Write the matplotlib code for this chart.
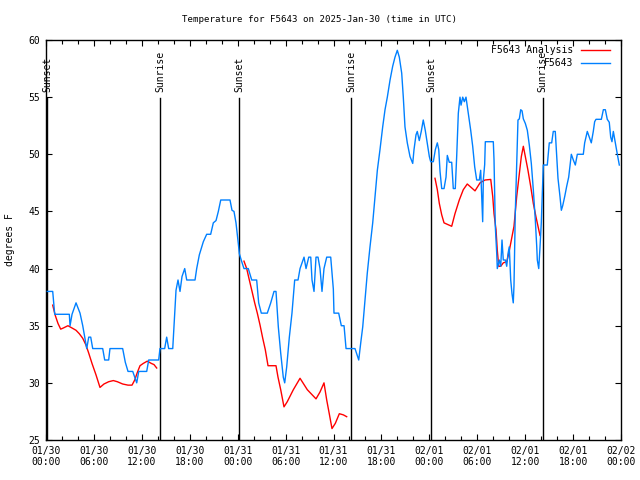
import matplotlib
matplotlib.use("Agg")
import matplotlib.pyplot as plt
import matplotlib.dates as mdates
from datetime import datetime, timedelta
import numpy as np

# ---- data (hours since 2025-01-30 00:00 UTC, temperature in F) ----
obs_hours = [0.16, 0.84, 1.09, 2.92, 3.01, 3.26, 3.76, 4.26, 4.60, 4.92, 5.10, 5.35, 5.60, 5.85,
             7.10, 7.35, 7.85, 8.01, 9.60, 9.93, 10.27, 10.86, 11.11, 11.36, 11.61, 12.61, 12.86,
             14.11, 14.27, 14.86, 15.11, 15.36, 15.87, 16.03, 16.28, 16.53, 16.78, 17.03, 17.37,
             17.62, 18.66, 18.87, 19.20, 19.70, 20.12, 20.62, 20.95, 21.29, 21.58, 21.88, 23.04,
             23.29, 23.54, 23.79, 24.08, 24.21, 24.51, 24.79, 25.33, 25.76, 26.38, 26.63, 26.96,
             27.71, 28.14, 28.55, 28.80, 29.09, 29.39, 29.71, 29.89, 30.14, 30.47, 30.80, 31.14,
             31.56, 31.81, 32.31, 32.56, 32.90, 33.15, 33.31, 33.56, 33.81, 34.06, 34.31, 34.56,
             34.81, 35.15, 35.65, 35.98, 36.06, 36.65, 36.98, 37.32, 37.57, 38.69, 38.98, 39.16,
             39.41, 39.66, 39.94, 40.23, 40.57, 40.91, 41.20, 41.49, 41.82, 42.16, 42.45, 42.74,
             43.08, 43.41, 43.70, 43.99, 44.24, 44.54, 44.74, 44.95, 45.24, 45.58, 45.92, 46.08,
             46.33, 46.49, 46.74, 46.99, 47.24, 47.49, 47.74, 48.00, 48.17, 48.50, 48.75, 49.00,
             49.18, 49.34, 49.55, 49.84, 50.09, 50.25, 50.50, 50.80, 51.00, 51.25, 51.43, 51.63,
             51.84, 51.97, 52.18, 52.38, 52.59, 52.88, 53.18, 53.43, 53.68, 53.93, 54.26, 54.43,
             54.60, 54.68, 54.76, 54.93, 55.01, 56.01, 56.10, 56.26, 56.44, 56.51, 56.76, 56.94,
             57.10, 57.26, 57.52, 57.69, 57.85, 58.01, 58.19, 58.35, 58.51, 58.60, 58.76, 58.94,
             59.10, 59.27, 59.44, 59.61, 59.77, 60.02, 60.27, 60.52, 60.77, 61.02, 61.27, 61.45,
             61.52, 61.70, 61.86, 62.02, 62.20, 62.27, 62.77, 63.02, 63.32, 63.52, 63.77, 63.95,
             64.11, 64.36, 64.53, 64.70, 64.95, 65.20, 65.45, 65.61, 65.78, 66.03, 66.28, 66.53,
             67.28, 67.45, 67.78, 68.03, 68.28, 68.53, 68.70, 68.87, 69.54, 69.79, 70.04, 70.28,
             70.53, 70.71, 70.87, 71.04, 71.29, 71.54, 71.79]
obs_temps = [38, 38, 36, 36, 35, 36, 37, 36.1, 35, 33.75, 33, 34, 34, 33,
             33, 32, 32, 33, 33, 31.8, 31, 31, 30.5, 30, 31, 31, 32,
             32, 33, 33, 34, 33, 33, 35, 38.1, 39, 38, 39.3, 40,
             39, 39, 40, 41.2, 42.35, 43, 43, 44, 44.2, 45, 46, 46,
             45.1, 45, 44, 42.2, 41.3, 40.6, 40, 40, 39, 39, 37, 36.1,
             36.1, 37, 38, 38, 34.9, 32.6, 30.5, 30, 31.4, 34, 36.1, 39,
             39, 40, 41, 40, 41, 41, 39, 38, 41, 41, 40, 38,
             40, 41, 41, 38.2, 36.1, 36.1, 35, 35, 33, 33, 32.4, 32,
             33.5, 34.9, 37.25, 39.6, 41.9, 44, 46.3, 48.6, 50.4, 52.4, 53.9, 55,
             56.5, 57.7, 58.5, 59.1, 58.5, 57.1, 55, 52.4, 51, 49.8, 49.2, 50.4,
             51.7, 52, 51.2, 52, 53, 52.1, 51, 49.8, 49.35, 49.35, 50.4, 51,
             50.4, 48.5, 47, 47, 48, 49.9, 49.3, 49.3, 47, 47, 49.9, 53.6,
             55, 54.3, 55, 54.6, 55, 53.6, 52.1, 50.7, 48.9, 47.75, 47.75, 48.6,
             45.7, 44.1, 47.75, 49.1, 51.1, 51.1, 49.5, 43.7, 41.3, 40, 40.75, 40.2,
             42.5, 40.75, 40.75, 40.2, 41.3, 41.9, 39, 37.8, 37, 38.5, 44.8, 49.2,
             53, 53.1, 53.9, 53.8, 53.1, 52.7, 52.1, 50.8, 49.2, 46.9, 44.25, 41.9,
             40.75, 40, 41.9, 44, 47.75, 49.06, 49.06, 51, 51, 52, 52, 49.8,
             47.9, 46.3, 45.1, 45.5, 46.3, 47.2, 48, 49, 50, 49.5, 49.06, 50,
             50, 51, 52, 51.5, 51, 52, 52.85, 53.06, 53.06, 53.9, 53.9, 53.06,
             52.8, 51.5, 51.1, 52, 51, 50, 49.06]

ana_hours = [0.84, 1.16, 1.50, 1.84, 2.17, 2.75, 3.26, 3.76, 4.17, 4.60, 5.01, 5.35, 5.76, 6.26,
             6.76, 7.26, 7.85, 8.43, 8.93, 9.60, 10.27, 10.77, 11.11, 11.43, 11.77, 12.18, 12.68,
             13.19, 13.52, 13.86, np.nan,
             24.79, 25.13, 25.46, 25.80, 26.13, 26.46, 26.80, 27.14, 27.46, 27.80, 28.80, 29.05,
             29.39, 29.80, 30.21, 30.97, 31.81, 32.72, 33.81, 34.31, 34.81, 35.15, 35.47, 35.81,
             36.23, 36.73, 37.23, 37.65, np.nan,
             48.71, 49.00, 49.25, 49.55, 49.84, 50.80, 51.21, 51.75, 52.25, 52.75, 53.72, 54.35,
             54.97, 55.69, 55.94, 56.10, 56.35, 56.51, 56.69, 56.94, 57.26, 57.69, 57.94, 58.27,
             58.60, 58.94, 59.27, 59.52, 59.77, 60.02, 60.35, 60.69, 61.02, 61.36, 61.70, 61.86]
ana_temps = [36.8, 35.9, 35.2, 34.7, 34.8, 35, 34.8, 34.6, 34.3, 33.9, 33.3, 32.6, 31.7, 30.7,
             29.6, 29.9, 30.1, 30.2, 30.1, 29.9, 29.8, 29.8, 30.25, 30.9, 31.5, 31.7, 31.9,
             31.7, 31.6, 31.3, np.nan,
             40.65, 40, 39, 38, 37, 36.1, 35.06, 33.9, 32.9, 31.5, 31.5, 30.5,
             29.4, 27.9, 28.35, 29.4, 30.4, 29.4, 28.6, 29.2, 30, 28.5, 27.3, 26,
             26.46, 27.3, 27.2, 27.04, np.nan,
             47.9, 46.9, 45.7, 44.7, 44, 43.7, 44.8, 46, 46.9, 47.4, 46.8, 47.5,
             47.75, 47.8, 46.3, 44.8, 43.4, 41.6, 40.2, 40.2, 40.5, 40.6, 41.3, 42.5,
             43.7, 46.3, 48.3, 49.8, 50.7, 49.8, 48.6, 47.2, 45.7, 44.5, 43.4, 42.9]

sun_hours = [0.13, 14.27, 24.17, 38.2, 48.2, 62.2]
sun_labels = ["Sunset", "Sunrise", "Sunset", "Sunrise", "Sunset", "Sunrise"]

title = "Temperature for F5643 on 2025-Jan-30 (time in UTC)"
ylabel = "degrees F"
legend_labels = ["F5643 Analysis", "F5643"]

base = datetime(2025, 1, 30)
obs_t = mdates.date2num([base + timedelta(hours=h) for h in obs_hours])
ana_t = np.array([mdates.date2num(base + timedelta(hours=h)) if not np.isnan(h) else np.nan
                  for h in ana_hours])
sun_t = mdates.date2num([base + timedelta(hours=h) for h in sun_hours])

FONT = "DejaVu Sans Mono"
FS = 7
plt.rcParams['font.family'] = FONT

fig = plt.figure(figsize=(6.4, 4.8), dpi=100)
ax = fig.add_axes([46/640, 1-440/480, 575/640, 400/480])

RED = "#ff0000"
BLUE = "#0080ff"

ax.plot(ana_t, ana_temps, color=RED, lw=1.0, zorder=3)
ax.plot(obs_t, obs_temps, color=BLUE, lw=1.0, zorder=4)

for t, lab in zip(sun_t, sun_labels):
    ax.plot([t, t], [0, 0.855], color="black", lw=1.0,
            transform=ax.get_xaxis_transform(), zorder=2)
    ax.text(t, 0.87, lab, rotation=90, ha="center", va="bottom",
            transform=ax.get_xaxis_transform(), fontsize=FS, fontfamily=FONT)

ax.set_xlim(mdates.date2num(base), mdates.date2num(base + timedelta(hours=72)))
ax.set_ylim(25, 60)
ax.set_yticks([25, 30, 35, 40, 45, 50, 55, 60])

ax.xaxis.set_major_locator(mdates.HourLocator(byhour=[0, 6, 12, 18]))
ax.xaxis.set_minor_locator(mdates.HourLocator(byhour=range(0, 24, 2)))
ax.xaxis.set_major_formatter(mdates.DateFormatter("%m/%d\n%H:%M"))

ax.tick_params(axis="both", which="both", direction="in", top=True, right=True,
               labelsize=FS, width=0.8, pad=4)
ax.tick_params(axis="both", which="major", length=4)
ax.tick_params(axis="both", which="minor", length=3)
for s in ax.spines.values():
    s.set_linewidth(1.0)

fig.text(0.5, 1 - 19/480, title, ha="center", va="center", fontsize=6.6, fontfamily=FONT)
ax.set_ylabel(ylabel, fontsize=FS, fontfamily=FONT, labelpad=10)

# manual legend (right-aligned text, line sample on the right)
for i, (lab, col) in enumerate(zip(legend_labels, [RED, BLUE])):
    yy = 0.975 - i * 0.032
    ax.text(0.917, yy, lab, ha="right", va="center", transform=ax.transAxes,
            fontsize=FS, fontfamily=FONT, zorder=5)
    ax.plot([0.93, 0.98], [yy, yy], color=col, lw=1.0, transform=ax.transAxes, zorder=5)

fig.savefig("out.png", dpi=100)
